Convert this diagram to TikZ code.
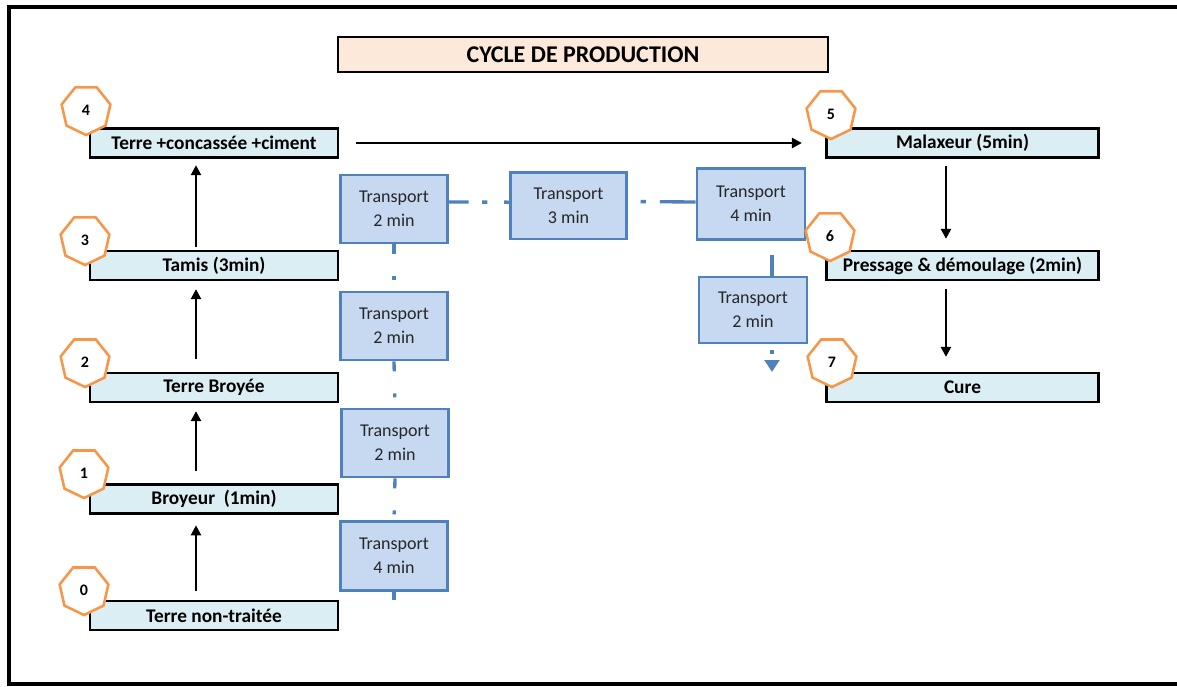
\documentclass[tikz,border=0pt]{standalone}
\usepackage{fontspec}
\setmainfont{Carlito}
\usetikzlibrary{shapes.geometric,arrows.meta,calc}
\definecolor{boxfill}{HTML}{DAEEF3}
\definecolor{titlefill}{HTML}{FDE9D9}
\definecolor{trfill}{HTML}{C6D9F1}
\definecolor{trline}{HTML}{4F81BD}
\definecolor{hexline}{HTML}{F79646}
\begin{document}
\begin{tikzpicture}[x=0.75pt,y=-0.75pt,
  stage/.style={draw=black,line width=1.7pt,fill=boxfill,minimum height=21.75pt,inner sep=0pt,font=\fontsize{14.5}{17}\selectfont\bfseries},
  leftstage/.style={stage,minimum width=186pt},
  rightstage/.style={stage,minimum width=204pt},
  numhex/.style={regular polygon,regular polygon sides=7,shape border rotate=180,draw=hexline,line width=1.9pt,fill=white,minimum size=37.5pt,inner sep=0pt,font=\fontsize{12}{13}\selectfont\bfseries},
  trbox/.style={draw=trline,line width=2pt,fill=trfill,minimum width=80pt,minimum height=51pt,align=center,inner sep=0pt,font=\fontsize{13.5}{18}\selectfont,text=black!85},
  flow/.style={line width=1.8pt,-{Triangle[length=7.5pt,width=7.5pt]}},
  trlink/.style={draw=trline,line width=2.5pt},
]
\useasboundingbox (0,0) rectangle (1177,686);
% outer frame
\draw[line width=2.3pt] (1180,7) -- (9,7) -- (9,684) -- (1180,684);

% title
\node[draw=black,line width=2pt,fill=titlefill,minimum width=367.5pt,minimum height=26.25pt,inner sep=0pt,font=\fontsize{18}{20}\selectfont\bfseries] (title) at (583,54.5) {CYCLE DE PRODUCTION};

% transport boxes
\node[trbox] (t1) at (394,209) {Transport\\2 min};
\node[trbox,minimum width=87pt,minimum height=50pt] (t2) at (568.5,205.5) {Transport\\3 min};
\node[trbox,minimum width=81pt,minimum height=53pt] (t3) at (751,204) {Transport\\4 min};
\node[trbox] (t4) at (394,326) {Transport\\2 min};
\node[trbox] (t5) at (395,443) {Transport\\2 min};
\node[trbox,minimum height=52pt] (t6) at (394,556) {Transport\\4 min};
\node[trbox,minimum width=81pt,minimum height=49.5pt] (t7) at (753,310) {Transport\\2 min};
\coordinate (tdown) at (394,600);
\coordinate (tend) at (772,372);

\draw[trlink,dash pattern=on 15pt off 10pt on 4pt off 12.5pt on 20pt] ([yshift=5.25pt]t1.east) -- ([yshift=2.5pt]t2.west);
\draw[trlink,dash pattern=on 0pt off 9.5pt on 4pt off 10.5pt on 40pt] ([yshift=3pt]t2.east) -- ([yshift=1.5pt]t3.west);
\draw[trlink,dash pattern=on 7.5pt off 16.5pt on 3pt off 20pt] (t1.south) -- (t4.north);
\draw[trlink,dash pattern=on 7.5pt off 16.5pt on 3pt off 20pt] (t4.south) -- (t5.north);
\draw[trlink,dash pattern=on 7.5pt off 16.5pt on 3pt off 20pt] (t5.south) -- (t6.north);
\draw[trlink] (t6.south) -- (tdown);
\draw[trlink,dash pattern=on 0pt off 10.5pt on 16.5pt off 10pt] ([xshift=15.75pt]t3.south) -- ([xshift=14.25pt]t7.north);
\draw[trlink,dash pattern=on 0pt off 4.5pt on 3pt off 10pt,-{Triangle[length=9pt,width=11pt]}] ([xshift=14.25pt]t7.south) -- (tend);

% stages
\node[leftstage] (s4) at (214,143) {Terre +concassée +ciment};
\node[leftstage] (s3) at (214,265.5) {Tamis (3min)};
\node[leftstage] (s2) at (214,387.5) {Terre Broyée};
\node[leftstage] (s1) at (214,499) {Broyeur\ \ (1min)};
\node[leftstage] (s0) at (214,615.5) {Terre non-traitée};
\node[rightstage] (s5) at (962.5,143) {Malaxeur (5min)};
\node[rightstage] (s6) at (962.5,265.5) {Pressage \& démoulage (2min)};
\node[rightstage] (s7) at (962.5,387.5) {Cure};

% numbers
\node[numhex] (h4) at (86,110) {4};
\node[numhex] (h3) at (85,240) {3};
\node[numhex] (h2) at (85,362) {2};
\node[numhex] (h1) at (84,473) {1};
\node[numhex] (h0) at (84,590) {0};
\node[numhex] (h5) at (831,114) {5};
\node[numhex] (h6) at (830,236) {6};
\node[numhex] (h7) at (832,362) {7};

% flow arrows
\draw[flow] ([xshift=-13.5pt,yshift=6.75pt]s0.north) -- ([xshift=-13.5pt,yshift=-8pt]s1.south);
\draw[flow] ([xshift=-13.5pt,yshift=9.4pt]s1.north) -- ([xshift=-13.5pt,yshift=-6pt]s2.south);
\draw[flow] ([xshift=-13.5pt,yshift=9.75pt]s2.north) -- ([xshift=-13.5pt,yshift=-6pt]s3.south);
\draw[flow] ([xshift=-13.5pt,yshift=2.25pt]s3.north) -- ([xshift=-13.5pt,yshift=-4.9pt]s4.south);
\draw[flow] ([xshift=12.75pt]s4.east) -- ([xshift=-17.6pt]s5.west);
\draw[flow] ([xshift=-12.4pt,yshift=-5.6pt]s5.south) -- ([xshift=-12.4pt,yshift=8.25pt]s6.north);
\draw[flow] ([xshift=-12.4pt,yshift=-6pt]s6.south) -- ([xshift=-12.4pt,yshift=11.25pt]s7.north);
\end{tikzpicture}
\end{document}
